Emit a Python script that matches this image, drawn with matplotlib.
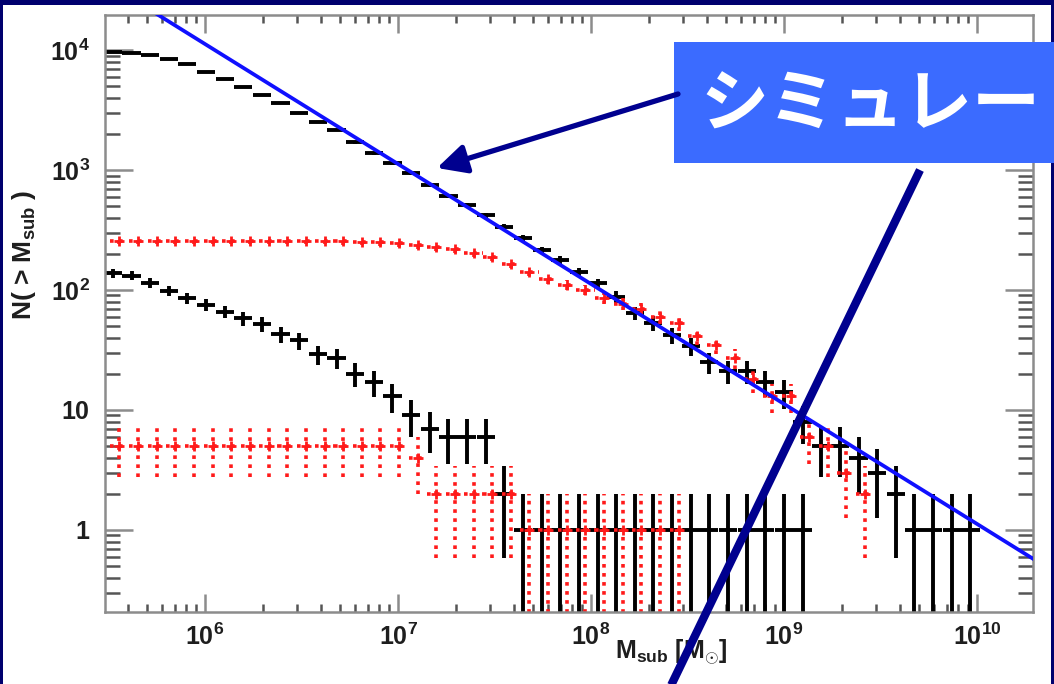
import numpy as np
import matplotlib
matplotlib.use('Agg')
import matplotlib.pyplot as plt
from matplotlib.patches import Rectangle
from matplotlib.ticker import FixedLocator, FuncFormatter, NullFormatter

# fonts: bold sans for axes, CJK for the call-out box
plt.rcParams['font.family'] = ['Liberation Sans', 'DejaVu Sans']
plt.rcParams['mathtext.fontset'] = 'custom'
plt.rcParams['mathtext.rm'] = 'Liberation Sans:bold'
plt.rcParams['mathtext.it'] = 'Liberation Sans:bold'
plt.rcParams['mathtext.bf'] = 'Liberation Sans:bold'
plt.rcParams['mathtext.default'] = 'rm'

# ---- data ----------------------------------------------------------------
# black histogram: bin centres (log10 Msub)
logm_black = [5.522, 5.619, 5.715, 5.812, 5.908, 6.005, 6.102, 6.198, 6.295, 6.391,
              6.488, 6.585, 6.681, 6.778, 6.874, 6.971, 7.068, 7.164, 7.261, 7.357,
              7.454, 7.551, 7.647, 7.744, 7.840, 7.937, 8.034, 8.130, 8.227, 8.323,
              8.420, 8.517, 8.613, 8.710, 8.806, 8.903, 9.000, 9.096, 9.193, 9.289,
              9.386, 9.483, 9.579, 9.676, 9.772, 9.869, 9.966]
# all subhaloes (upper black)
n_black_all = [9600, 9500, 9100, 8500, 7700, 6600, 5700, 4900, 4250, 3600,
               3000, 2530, 2150, 1700, 1380, 1140, 940, 750, 607, 510,
               422, 337, 270, 215, 178, 142, 114, 88, 64, 53,
               42, 34, 25, 21, 21, 17, 14, 8, 5, 5,
               4, 3, 2, 1, 1, 1, 1]
# luminous subset (lower black)
n_black_lum = [138, 132, 115, 99, 86, 75, 66, 58, 52, 43,
               38, 29, 27, 20, 17, 13, 9, 7, 6, 6,
               6, 2, 1, 1, 1, 1, 1, 1, 1, 1,
               1, 1, 1, 1, 1, 1, 1, 1]

# red histogram: bin centres (log10 Msub)
logm_red = [5.556, 5.653, 5.749, 5.846, 5.942, 6.039, 6.136, 6.232, 6.329, 6.425,
            6.522, 6.619, 6.715, 6.812, 6.908, 7.005, 7.102, 7.198, 7.295, 7.391,
            7.488, 7.585, 7.681, 7.778, 7.874, 7.971, 8.068, 8.164, 8.261, 8.357,
            8.454, 8.551, 8.647, 8.744, 8.840, 8.937, 9.034, 9.130, 9.227, 9.323,
            9.420]
n_red_all = [258, 258, 258, 258, 258, 258, 258, 258, 258, 258,
             257, 256, 255, 252, 249, 245, 237, 227, 220, 202,
             187, 165, 142, 123, 110, 100, 85, 77, 70, 60,
             53, 41, 35, 27, 18, 13, 13, 6, 5, 3,
             2]
n_red_lum = [5, 5, 5, 5, 5, 5, 5, 5, 5, 5,
             5, 5, 5, 5, 5, 5, 4, 2, 2, 2,
             2, 2, 1, 1, 1, 1, 1, 1, 1, 1,
             1]

# power-law from simulations: N(>M) = 10**lognorm * M**slope
line_lognorm = 10.05
line_slope = -1.0

x_major = [1e6, 1e7, 1e8, 1e9, 1e10]
y_major = [1, 10, 100, 1e3, 1e4]

callout = 'シミュレー'

# ---- figure --------------------------------------------------------------
navy = '#00006e'
W, H = 1054, 684
fig = plt.figure(figsize=(W / 100, H / 100), dpi=100, facecolor=navy)

bg = fig.add_axes([0, 0, 1, 1], zorder=-5)
bg.set_xlim(0, W)
bg.set_ylim(H, 0)
bg.axis('off')
bg.add_patch(Rectangle((3, 5), 1048, 684, facecolor='white', edgecolor='none'))

ax = fig.add_axes([105 / W, 1 - 612 / H, 928 / W, 597 / H])
ax.set_facecolor('white')
ax.set_xscale('log')
ax.set_yscale('log')

half_bin = 0.047  # half width of a bin in dex


def draw_hist(logm, n, color, dotted):
    n = np.array(n, dtype=float)
    m = 10 ** np.array(logm[:len(n)])
    xlo = m - m / 10 ** half_bin
    xhi = m * 10 ** half_bin - m
    err = np.sqrt(n)
    ylo = np.where(n - err <= 0, n - 1e-3, err)
    cont = ax.errorbar(m, n, xerr=[xlo, xhi], yerr=[ylo, err], fmt='none',
                       ecolor=color, elinewidth=2.8 if not dotted else 2.6,
                       capsize=0, zorder=2)
    if dotted:
        for col in cont[2]:
            col.set_linestyle((0, (1.0, 1.5)))
        ax.plot(m, n, '+', color=color, ms=7, mew=2.0, zorder=2)


draw_hist(logm_black, n_black_all, 'black', False)
draw_hist(logm_black, n_black_lum, 'black', False)
draw_hist(logm_red, n_red_all, '#ff1a1a', True)
draw_hist(logm_red, n_red_lum, '#ff1a1a', True)

m_line = np.array([1e5, 1e11])
ax.plot(m_line, 10 ** line_lognorm * m_line ** line_slope, color='#1010ff', lw=2.7, zorder=3)

ax.set_xlim(3.03e5, 1.95e10)
ax.set_ylim(0.207, 1.96e4)

for s in ax.spines.values():
    s.set_color('#8c8c8c')
    s.set_linewidth(1.8)

ax.xaxis.set_major_locator(FixedLocator(x_major))
ax.yaxis.set_major_locator(FixedLocator(y_major))
ax.xaxis.set_minor_locator(FixedLocator([k * 10.0 ** e for e in range(5, 11) for k in range(2, 10)]))
ax.yaxis.set_minor_locator(FixedLocator([k * 10.0 ** e for e in range(-1, 5) for k in range(2, 10)]))
ax.xaxis.set_minor_formatter(NullFormatter())
ax.yaxis.set_minor_formatter(NullFormatter())
ax.xaxis.set_major_formatter(FuncFormatter(lambda v, p: r'$10^{%d}$' % round(np.log10(v))))
ax.yaxis.set_major_formatter(FuncFormatter(
    lambda v, p: r'$10^{%d}$' % round(np.log10(v)) if v >= 100 else '%d' % v))

ax.tick_params(axis='both', which='both', direction='in', top=True, right=True,
               color='#8c8c8c', width=1.8, labelsize=18, labelcolor='#1e1e1e')
ax.tick_params(axis='y', which='major', length=20, pad=11)
ax.tick_params(axis='y', which='minor', length=11, color='#555555')
ax.tick_params(axis='x', which='major', length=13, pad=8)
ax.tick_params(axis='x', which='minor', length=6, color='#555555')
for lab in ax.get_yticklabels():
    lab.set_fontweight('bold')

# ---- overlay: axis titles and call-out, in pixel units -------------------
ov = fig.add_axes([0, 0, 1, 1], zorder=10)
ov.set_xlim(0, W)
ov.set_ylim(H, 0)
ov.axis('off')
ov.patch.set_alpha(0)

ov.text(24, 255, r'N( > M$_{\rm sub}$ )', rotation=90, ha='center', va='center',
        fontsize=19, fontweight='bold', color='#1e1e1e')
ov.text(671, 652, r'M$_{\rm sub}$ [M$_{\odot}$]', ha='center', va='center',
        fontsize=18, fontweight='bold', color='#1e1e1e')

ov.add_patch(Rectangle((674, 42), 380, 121, facecolor='#3b6bff', edgecolor='none', zorder=4))
ov.text(700, 106, callout, ha='left', va='center', fontsize=49,
        fontweight='bold', color='white',
        family=['Noto Sans CJK JP', 'DejaVu Sans'], zorder=5)

arrow_col = '#00008f'
ov.annotate('', xy=(437, 168), xytext=(678, 94),
            arrowprops=dict(arrowstyle='-|>', color=arrow_col, lw=3.8,
                            mutation_scale=44, shrinkA=0, shrinkB=0), zorder=6)
ov.plot([920, 664], [170, 700], color=arrow_col, lw=6, solid_capstyle='butt', zorder=6)

plt.savefig('out.png', dpi=100, facecolor=navy)
